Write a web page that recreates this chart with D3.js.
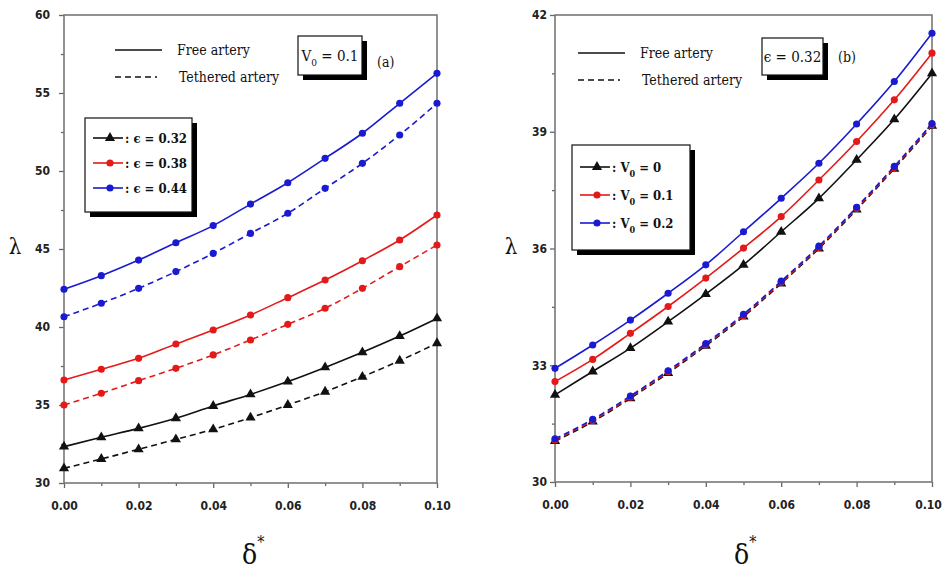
<!DOCTYPE html>
<html><head>
<meta charset="utf-8">
<title>lambda vs delta</title>
<script src="https://d3js.org/d3.v7.min.js"></script>
<style>
  body { margin: 0; background: #fff; }
  .tick text { font-family: "Liberation Sans Narrow", "DejaVu Sans Condensed", "DejaVu Sans", sans-serif; font-stretch: condensed; font-weight: bold; font-size: 12px; fill: #222; }
  .lab { font-family: "DejaVu Serif Condensed", "DejaVu Serif", serif; font-stretch: condensed; fill: #111; }
</style>
</head>
<body>
<div id="chart"></div>
<script>

// delta* values (x), shared by every curve
var deltaVals = [0, 0.01, 0.02, 0.03, 0.04, 0.05, 0.06, 0.07, 0.08, 0.09, 0.10];

// panel (a): V0 = 0.1, eps = 0.32 / 0.38 / 0.44
var freeA_032 = [32.33, 32.93, 33.50, 34.15, 34.94, 35.68, 36.50, 37.41, 38.38, 39.42, 40.55];
var tethA_032 = [30.94, 31.54, 32.16, 32.80, 33.44, 34.19, 35.00, 35.85, 36.81, 37.84, 38.96];
var freeA_038 = [36.60, 37.29, 37.99, 38.91, 39.81, 40.77, 41.88, 43.01, 44.25, 45.58, 47.18];
var tethA_038 = [35.00, 35.75, 36.56, 37.35, 38.21, 39.17, 40.17, 41.20, 42.48, 43.87, 45.26];
var freeA_044 = [42.42, 43.29, 44.29, 45.40, 46.50, 47.88, 49.25, 50.81, 52.42, 54.34, 56.26];
var tethA_044 = [40.66, 41.52, 42.48, 43.55, 44.72, 46.00, 47.29, 48.89, 50.49, 52.31, 54.34];

// panel (b): eps = 0.32, V0 = 0 / 0.1 / 0.2
var freeB_0  = [32.24, 32.84, 33.44, 34.12, 34.83, 35.58, 36.43, 37.29, 38.28, 39.32, 40.50];
var tethB_0  = [31.05, 31.55, 32.15, 32.80, 33.50, 34.25, 35.10, 36.00, 37.00, 38.05, 39.15];
var freeB_01 = [32.58, 33.15, 33.82, 34.51, 35.24, 36.01, 36.82, 37.76, 38.75, 39.82, 41.02];
var tethB_01 = [31.08, 31.58, 32.18, 32.83, 33.53, 34.28, 35.13, 36.03, 37.03, 38.08, 39.18];
var freeB_02 = [32.92, 33.52, 34.16, 34.85, 35.58, 36.43, 37.29, 38.19, 39.20, 40.29, 41.53];
var tethB_02 = [31.11, 31.61, 32.21, 32.86, 33.56, 34.31, 35.16, 36.06, 37.06, 38.11, 39.21];

// ticks
var xTicks = [0, 0.02, 0.04, 0.06, 0.08, 0.10];
var xMinor = [0.01, 0.03, 0.05, 0.07, 0.09];
var yTicksA = [30, 35, 40, 45, 50, 55, 60];
var yMinorA = [32.5, 37.5, 42.5, 47.5, 52.5, 57.5];
var yTicksB = [30, 33, 36, 39, 42];
var yMinorB = [31.5, 34.5, 37.5, 40.5];

var legendA = [": \u03f5 = 0.32", ": \u03f5 = 0.38", ": \u03f5 = 0.44"];
var legendB = ["0", "0.1", "0.2"];

var colors = ["#111111", "#e41a1a", "#1a1ad0"];
var shapes = [d3.symbolTriangle, d3.symbolCircle, d3.symbolCircle];

var svg = d3.select("#chart").append("svg")
    .attr("width", 945)
    .attr("height", 571);

svg.append("rect").attr("width", 945).attr("height", 571).attr("fill", "#fff");

function marker(g, shape, color, x, y) {
  g.append("path")
    .attr("d", d3.symbol().type(shape).size(shape == d3.symbolTriangle ? 45 : 40))
    .attr("transform", "translate(" + x + "," + y + ")")
    .attr("fill", color);
}

function drawPanel(p) {
  var g = svg.append("g");
  var x = d3.scaleLinear().domain([0, 0.1]).range([p.x0, p.x1]);
  var y = d3.scaleLinear().domain(p.yDomain).range([p.y1, p.y0]);

  // axes
  var xa = g.append("g").attr("transform", "translate(0," + p.y1 + ")")
    .call(d3.axisBottom(x).tickValues(xTicks).tickFormat(d3.format(".2f")).tickSize(5).tickPadding(13));
  xa.selectAll(".tick text").filter(function(d) { return d == 0.1; }).attr("dx", p.lastDx);
  g.append("g").attr("transform", "translate(0," + p.y1 + ")")
    .call(d3.axisBottom(x).tickValues(xMinor).tickFormat("").tickSize(3));
  g.append("g").attr("transform", "translate(" + p.x0 + ",0)")
    .call(d3.axisLeft(y).tickValues(p.yTicks).tickFormat(d3.format("d")).tickSize(5).tickPadding(p.yPad));
  g.append("g").attr("transform", "translate(" + p.x0 + ",0)")
    .call(d3.axisLeft(y).tickValues(p.yMinor).tickFormat("").tickSize(3));
  g.selectAll(".domain").remove();
  g.selectAll(".tick line").attr("stroke", "#666").attr("stroke-width", 1.3);

  g.append("rect")
    .attr("x", p.x0).attr("y", p.y0)
    .attr("width", p.x1 - p.x0).attr("height", p.y1 - p.y0)
    .attr("fill", "none").attr("stroke", "#777").attr("stroke-width", 1.6);

  var line = d3.line()
    .x(function(d, i) { return x(deltaVals[i]); })
    .y(function(d) { return y(d); })
    .curve(d3.curveMonotoneX);

  p.series.forEach(function(s) {
    g.append("path")
      .datum(s.vals)
      .attr("fill", "none")
      .attr("stroke", colors[s.k])
      .attr("stroke-width", 1.6)
      .attr("stroke-dasharray", s.dash ? "6,4" : null)
      .attr("d", line);
    s.vals.forEach(function(v, i) {
      marker(g, shapes[s.k], colors[s.k], x(deltaVals[i]), y(v));
    });
  });

  // axis titles
  g.append("text").attr("class", "lab")
    .attr("x", p.lamX).attr("y", 254)
    .style("font-size", "22px")
    .attr("text-anchor", "middle")
    .text("\u03bb");
  var dt = g.append("text").attr("class", "lab")
    .attr("x", p.delX).attr("y", 564)
    .style("font-size", "28px")
    .text("\u03b4");
  dt.append("tspan").attr("dy", -16).style("font-size", "16px").text("*");

  // line style legend
  g.append("line").attr("x1", p.lsX).attr("x2", p.lsX + 47)
    .attr("y1", p.lsY).attr("y2", p.lsY).attr("stroke", "#111").attr("stroke-width", 1.6);
  g.append("line").attr("x1", p.lsX).attr("x2", p.lsX + 42)
    .attr("y1", p.lsY + 27).attr("y2", p.lsY + 27).attr("stroke", "#111").attr("stroke-width", 1.6)
    .attr("stroke-dasharray", "6,4");
  g.append("text").attr("class", "lab").attr("x", p.lsX + 62).attr("y", p.lsY + 5)
    .style("font-size", "14px").text("Free artery");
  g.append("text").attr("class", "lab").attr("x", p.lsX + 64).attr("y", p.lsY + 32)
    .style("font-size", "14px").text("Tethered artery");

  // parameter box with shadow
  g.append("rect").attr("x", p.bx.x + 5).attr("y", p.bx.y + 5)
    .attr("width", p.bx.w).attr("height", p.bx.h).attr("fill", "#000");
  g.append("rect").attr("x", p.bx.x).attr("y", p.bx.y)
    .attr("width", p.bx.w).attr("height", p.bx.h).attr("fill", "#fff")
    .attr("stroke", "#111").attr("stroke-width", 1.2);
  p.boxText(g.append("text").attr("class", "lab")
    .attr("x", p.bx.x + p.bx.w / 2).attr("y", p.bx.y + p.bx.h / 2 + 5)
    .attr("text-anchor", "middle").style("font-size", "15px"));
  g.append("text").attr("class", "lab").attr("x", p.tagX).attr("y", p.tagY)
    .style("font-size", "14px").text(p.tag);

  // series legend
  var L = p.leg;
  g.append("rect").attr("x", L.x + 5).attr("y", L.y + 5)
    .attr("width", L.w).attr("height", L.h).attr("fill", "#000");
  g.append("rect").attr("x", L.x).attr("y", L.y)
    .attr("width", L.w).attr("height", L.h).attr("fill", "#fff")
    .attr("stroke", "#111").attr("stroke-width", 1.2);
  [0, 1, 2].forEach(function(k) {
    var yy = L.y + L.first + k * L.step;
    g.append("line").attr("x1", L.x + 8).attr("x2", L.x + 38)
      .attr("y1", yy).attr("y2", yy).attr("stroke", colors[k]).attr("stroke-width", 1.6);
    marker(g, shapes[k], colors[k], L.x + 25, yy);
    p.legText(g.append("text").attr("class", "lab")
      .attr("x", L.x + 40).attr("y", yy + 5)
      .style("font-size", "13px").style("font-weight", "bold"), k);
  });
}

drawPanel({
  x0: 64, x1: 437, y0: 15, y1: 483,
  yDomain: [30, 60], yTicks: yTicksA, yMinor: yMinorA, yPad: 9,
  lastDx: 0,
  lamX: 15, delX: 242,
  lsX: 115, lsY: 50,
  bx: {x: 298, y: 36, w: 64, h: 39},
  boxText: function(t) {
    t.append("tspan").text("V");
    t.append("tspan").attr("dy", 5).style("font-size", "10px").text("0");
    t.append("tspan").attr("dy", -5).text(" = 0.1");
  },
  tag: "(a)", tagX: 377, tagY: 67,
  leg: {x: 85, y: 118, w: 107, h: 94, first: 20, step: 25},
  legText: function(t, k) { t.text(legendA[k]); },
  series: [
    {k: 0, vals: freeA_032}, {k: 0, vals: tethA_032, dash: true},
    {k: 1, vals: freeA_038}, {k: 1, vals: tethA_038, dash: true},
    {k: 2, vals: freeA_044}, {k: 2, vals: tethA_044, dash: true}
  ]
});

drawPanel({
  x0: 555, x1: 932, y0: 15, y1: 482,
  yDomain: [30, 42], yTicks: yTicksB, yMinor: yMinorB, yPad: 3,
  lastDx: -4,
  lamX: 511, delX: 734,
  lsX: 578, lsY: 53,
  bx: {x: 762, y: 38, w: 61, h: 37},
  boxText: function(t) { t.text("\u03f5 = 0.32"); },
  tag: "(b)", tagX: 838, tagY: 62,
  leg: {x: 572, y: 145, w: 118, h: 105, first: 22, step: 28},
  legText: function(t, k) {
    t.append("tspan").text(": V");
    t.append("tspan").attr("dy", 5).style("font-size", "9px").text("0");
    t.append("tspan").attr("dy", -5).text(" = " + legendB[k]);
  },
  series: [
    {k: 0, vals: freeB_0}, {k: 1, vals: freeB_01}, {k: 2, vals: freeB_02},
    {k: 0, vals: tethB_0, dash: true}, {k: 1, vals: tethB_01, dash: true}, {k: 2, vals: tethB_02, dash: true}
  ]
});

</script>
</body></html>
